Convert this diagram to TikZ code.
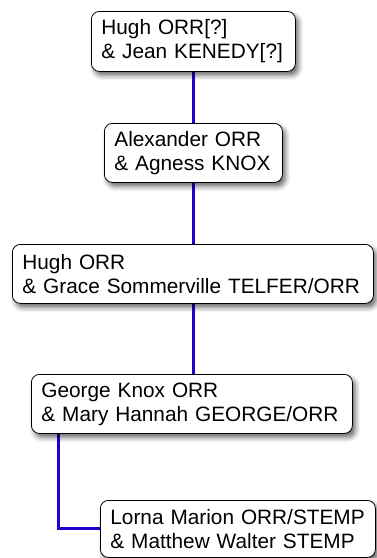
\documentclass[tikz,border=0pt]{standalone}
\usepackage{fontspec}
\setmainfont{Liberation Sans}
\usetikzlibrary{shadows.blur,backgrounds}

\definecolor{linkblue}{RGB}{36,0,208}

\tikzset{
  person/.style={
    draw=black, line width=0.8pt, fill=white, rounded corners=8pt,
    anchor=north west, inner xsep=10pt, inner ysep=0pt, align=left,
    font=\fontsize{20.8pt}{24pt}\selectfont,
    blur shadow={shadow xshift=3pt, shadow yshift=-4pt,
                 shadow blur radius=5pt, shadow opacity=60}
  },
  link/.style={draw=linkblue, line width=3pt}
}

\newcommand{\famnode}[7]{%
  % name, left, top, right, bottom, line1, line2
  \node[person, text width=#4pt-#2pt-20pt, minimum height=#5pt-#3pt]
    (#1) at (#2pt,-#3pt) {\mbox{#6}\\\mbox{#7}};}

\begin{document}
\begin{tikzpicture}[x=1pt,y=1pt]
  \useasboundingbox (0,0) rectangle (376,-558);

  \famnode{b1}{91}{11}{295}{71}{Hugh ORR[?]}{\& Jean KENEDY[?]}
  \famnode{b2}{104}{123}{282}{182}{Alexander ORR}{\& Agness KNOX}
  \famnode{b3}{12}{244}{373}{303}{Hugh ORR}{\& Grace Sommerville TELFER/ORR}
  \famnode{b4}{31}{374}{352}{433}{George Knox ORR}{\& Mary Hannah GEORGE/ORR}
  \famnode{b5}{100}{500}{375}{557}{Lorna Marion ORR/STEMP}{\& Matthew Walter STEMP}

  \coordinate (knee) at (58,-527);

  \begin{pgfonlayer}{background}
    \draw[link] (b1.south) -- (b1.south |- b2.north);
    \draw[link] (b2.south) -- (b2.south |- b3.north);
    \draw[link] (b4.north -| b2.south) -- (b2.south |- b3.south);
    \draw[link] (b4.south -| knee) |- (b5.west);
  \end{pgfonlayer}
\end{tikzpicture}
\end{document}
